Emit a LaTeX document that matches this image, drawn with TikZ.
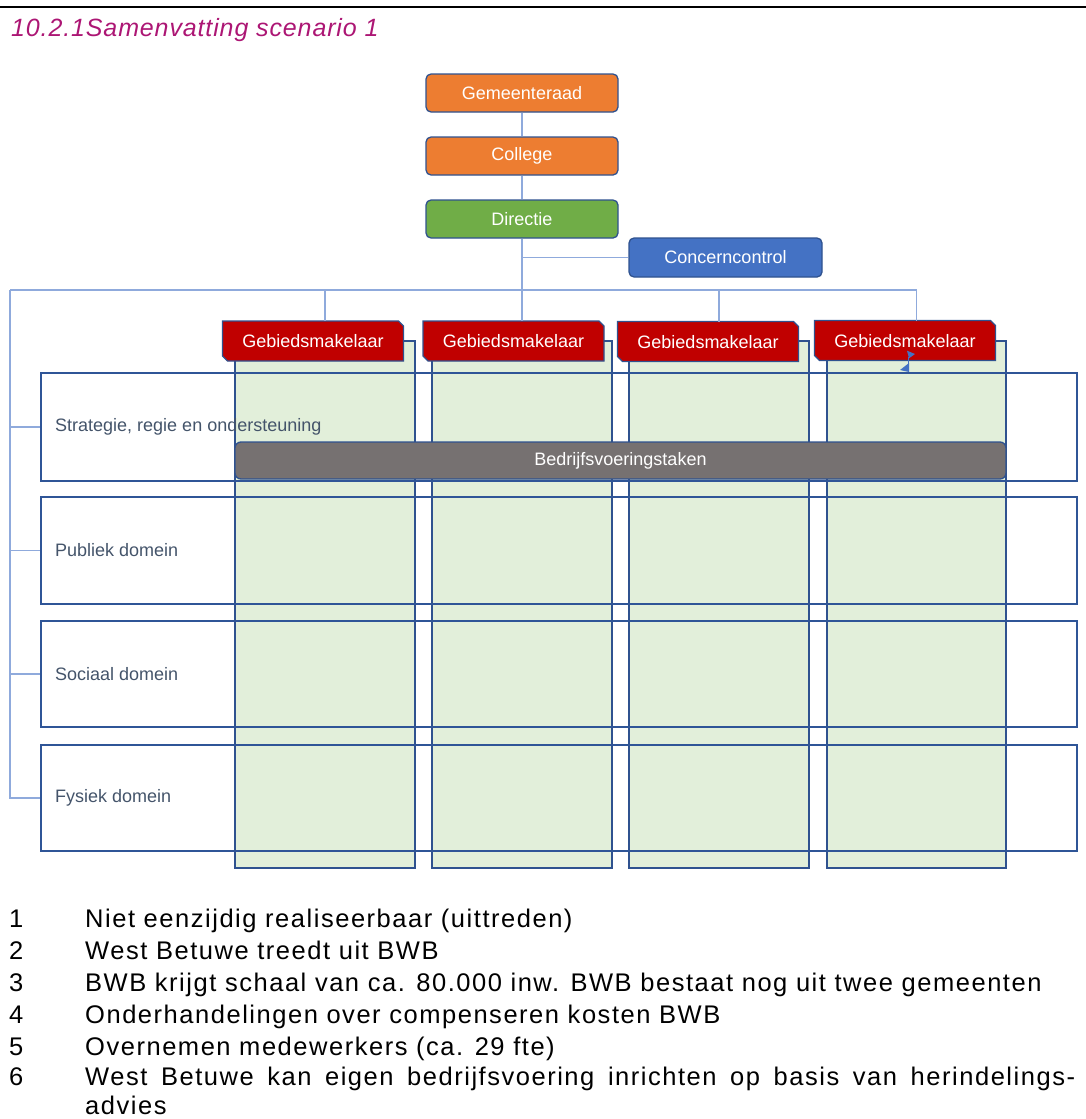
\documentclass[tikz,border=0pt]{standalone}
\usepackage{fontspec}
\setmainfont{Liberation Sans}
\newfontfamily\listfont[LetterSpace=6]{Liberation Sans}
\newfontfamily\headfont[LetterSpace=3.5]{Liberation Sans}
\definecolor{headmagenta}{RGB}{172,22,116}
\definecolor{boxedge}{RGB}{47,82,143}
\definecolor{raadorange}{RGB}{237,125,49}
\definecolor{direngreen}{RGB}{112,173,71}
\definecolor{ccblue}{RGB}{68,114,196}
\definecolor{makelaarred}{RGB}{192,0,0}
\definecolor{bvgray}{RGB}{118,113,113}
\definecolor{colgreen}{RGB}{226,239,218}
\definecolor{linkblue}{RGB}{143,170,220}
\definecolor{rowtext}{RGB}{68,84,106}
\definecolor{rowedge}{RGB}{47,85,151}

\begin{document}
\begin{tikzpicture}[x=1pt,y=-1pt,
  boxfont/.style={font=\fontsize{18}{20}\selectfont},
  orgbox/.style={draw=boxedge, line width=1.3pt, rounded corners=5pt,
    minimum width=192pt, minimum height=38pt, inner sep=0pt, text=white, boxfont},
  link/.style={draw=linkblue, line width=1.2pt},
  colbox/.style={draw=boxedge, line width=1.4pt, fill=colgreen,
    minimum width=180pt, minimum height=527pt, inner sep=0pt},
  rowbox/.style={draw=rowedge, line width=1.4pt, minimum width=1036pt, inner sep=0pt},
  rowlabel/.style={anchor=west, inner sep=0pt, text=rowtext, boxfont},
  listline/.style={anchor=base west, inner sep=0pt, font=\listfont\fontsize{25.5}{30}\selectfont},
  makelaar/.pic={
    \path[draw=boxedge, line width=1.3pt, fill=makelaarred]
      (-90.5,-20) -- (85.5,-20) -- (90.5,-15) -- (90.5,20) -- (-85.5,20) -- (-90.5,15) -- cycle;
    \node[text=white, inner sep=0pt, boxfont] (-label) at (0,0.5) {Gebiedsmakelaar};
    \coordinate (-top) at (0,-20);
  },
]
\useasboundingbox (0,0) rectangle (1086,1119);

% heading rule and title
\draw[line width=2.7pt] (0,7) -- (1086,7);
\node[anchor=base west, inner sep=0pt, text=headmagenta,
  font=\headfont\itshape\fontsize{25}{30}\selectfont] (title) at (11,36) {10.2.1Samenvatting scenario 1};

% governance chain
\node[orgbox, fill=raadorange] (raad) at (522,93) {Gemeenteraad};
\node[orgbox, fill=raadorange] (college) at (522,156) {College};
\node[orgbox, fill=direngreen] (directie) at (522,219) {Directie};
\node[orgbox, fill=ccblue, minimum width=193pt, minimum height=39pt] (cc) at (725.5,257.5) {Concerncontrol};

\coordinate (busL) at (10,290);
\coordinate (busR) at (917,290);
\coordinate (ccjoin) at (522,257.5);

\draw[link] (raad) -- (college);
\draw[link] (college) -- (directie);
\draw[link] (directie.south) -- (directie.south |- busL);
\draw[link] (ccjoin) -- (cc.west);
\draw[link] (busL) -- (busR);

% area columns
\node[colbox] (col1) at (325,604.5) {};
\node[colbox] (col2) at (522,604.5) {};
\node[colbox] (col3) at (719,604.5) {};
\node[colbox, minimum width=179pt] (col4) at (916.5,604.5) {};

% domain rows
\node[rowbox, minimum height=108pt] (row1) at (559,427) {};
\node[rowbox, minimum height=107pt] (row2) at (559,550.5) {};
\node[rowbox, minimum height=106pt] (row3) at (559,674) {};
\node[rowbox, minimum height=106pt] (row4) at (559,798) {};

\node[rowlabel] (lab1) at (55,427) {Strategie, regie en ondersteuning};
\node[rowlabel] (lab2) at (55,550.5) {Publiek domein};
\node[rowlabel] (lab3) at (55,674) {Sociaal domein};
\node[rowlabel] (lab4) at (55,798) {Fysiek domein};

% left bracket to the rows
\draw[link] (busL) -- (busL |- row4.west) -- (row4.west);
\draw[link] (busL |- row1.west) -- (row1.west);
\draw[link] (busL |- row2.west) -- (row2.west);
\draw[link] (busL |- row3.west) -- (row3.west);

% area brokers
\pic (gm1) at (313,341) {makelaar};
\pic (gm2) at (513.5,341) {makelaar};
\pic (gm3) at (708,341.5) {makelaar};
\pic (gm4) at (905,340.5) {makelaar};

\draw[link] (col1 |- busL) -- (col1 |- gm1-top);
\draw[link] (col2 |- busL) -- (col2 |- gm2-top);
\draw[link] (col3 |- busL) -- (col3 |- gm3-top);
\draw[link] (col4 |- busL) -- (col4 |- gm4-top);

% shared business operations
\node[draw=boxedge, line width=1.3pt, fill=bvgray, rounded corners=6pt,
  minimum width=771pt, minimum height=37pt, inner sep=0pt, text=white, boxfont]
  (bv) at (620.5,460.5) {Bedrijfsvoeringstaken};

% small handle marks
\coordinate (hA) at (908.5,357);
\coordinate (hB) at (908.5,364);
\draw[ccblue, line width=1pt] (hA) -- (hB);
\fill[ccblue] (907,350.7) -- (915,354) -- (909,358.3) -- cycle;
\fill[ccblue] (909,363) -- (900,370) -- (909,372) -- cycle;

% numbered notes
\node[listline] (n1) at (9,927) {1};
\node[listline] (t1) at (85,927) {Niet eenzijdig realiseerbaar (uittreden)};
\node[listline] (n2) at (9,959) {2};
\node[listline] (t2) at (85,959) {West Betuwe treedt uit BWB};
\node[listline] (n3) at (9,991) {3};
\node[listline] (t3) at (85,991) {BWB krijgt schaal van ca. 80.000 inw. BWB bestaat nog uit twee gemeenten};
\node[listline] (n4) at (9,1023) {4};
\node[listline] (t4) at (85,1023) {Onderhandelingen over compenseren kosten BWB};
\node[listline] (n5) at (9,1055) {5};
\node[listline] (t5) at (85,1055) {Overnemen medewerkers (ca. 29 fte)};
\node[listline] (n6) at (9,1085) {6};
\node[listline] (t6) at (85,1085) {\makebox[990pt][s]{West Betuwe kan eigen bedrijfsvoering inrichten op basis van herindelings-}};
\node[listline] (t7) at (85,1114) {advies};
\end{tikzpicture}
\end{document}
